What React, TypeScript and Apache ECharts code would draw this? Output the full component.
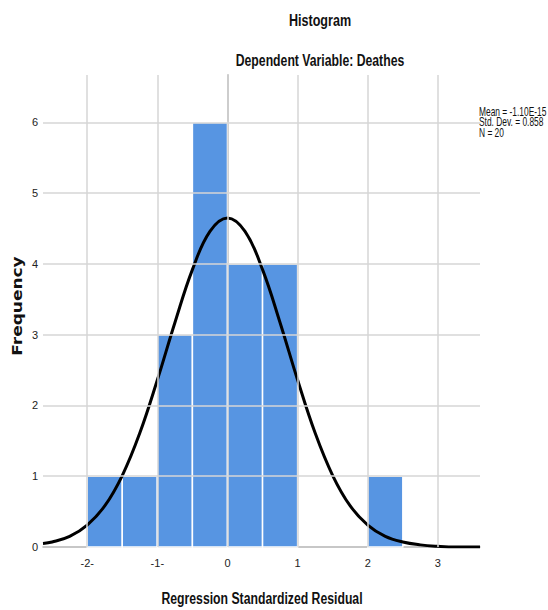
import React, { useEffect, useRef } from "react";
import * as echarts from "echarts";

const binStarts = [-2, -1.5, -1, -0.5, 0, 0.5, 2];
const binEnds = [-1.5, -1, -0.5, 0, 0.5, 1, 2.5];
const frequencies = [1, 1, 3, 6, 4, 4, 1];
const curveX = [-2.63, -2.5, -2.25, -2, -1.75, -1.5, -1.25, -1, -0.75, -0.5, -0.25, 0, 0.25, 0.5, 0.75, 1, 1.25, 1.5, 1.75, 2, 2.25, 2.5, 2.75, 3, 3.25, 3.6];
const curveY = [0.05, 0.07, 0.15, 0.31, 0.58, 1.01, 1.61, 2.36, 3.17, 3.92, 4.46, 4.65, 4.46, 3.92, 3.17, 2.36, 1.61, 1.01, 0.58, 0.31, 0.15, 0.07, 0.03, 0.01, 0.0, 0.0];
const xTicks = [-2, -1, 0, 1, 2, 3];
const xTickLabels = ["-2-", "-1-", "0", "1", "2", "3"];
const yTicks = [0, 1, 2, 3, 4, 5, 6];
const statsLines = ["Mean = -1.10E-15", "Std. Dev. = 0.858", "N = 20"];
const titleText = "Histogram";
const subtitleText = "Dependent Variable: Deathes";
const xName = "Regression Standardized Residual";
const yName = "Frequency";

const SANS = '"Liberation Sans", Arial, sans-serif';

export default function App() {
  const ref = useRef<HTMLDivElement>(null);
  useEffect(() => {
    document.body.style.margin = "0";
    if (!ref.current) return;
    const chart = echarts.init(ref.current, null, { renderer: "svg" });
    const barData = binStarts.map((s, i) => [s, binEnds[i], frequencies[i]]);
    const curveData = curveX.map((x, i) => [x, curveY[i]]);
    const gridMarks: any[] = [
      ...xTicks.map((v) => ({ xAxis: v })),
      ...yTicks.slice(1).map((v) => ({ yAxis: v })),
    ];
    const narrowText = (text: string, x: number, y: number, size: number, bold: boolean, align: string, sx: number) => ({
      type: "text",
      x,
      y,
      scaleX: sx,
      style: {
        text,
        fontFamily: SANS,
        fontSize: size,
        fontWeight: bold ? "bold" : "normal",
        fill: "#111",
        textAlign: align,
        textVerticalAlign: "middle",
      },
    });
    chart.setOption({
      animation: false,
      backgroundColor: "#ffffff",
      grid: { left: 43, top: 75, right: 68, bottom: 63, containLabel: false },
      xAxis: {
        type: "value",
        min: -2.63,
        max: 3.6,
        axisLine: { show: true, onZero: false, lineStyle: { color: "#b5b5b5", width: 1.5 } },
        axisTick: { show: false },
        splitLine: { show: false },
        axisLabel: {
          customValues: xTicks,
          formatter: (v: number) => {
            const i = xTicks.indexOf(Math.round(v));
            return i >= 0 ? xTickLabels[i] : "";
          },
          fontFamily: SANS,
          fontSize: 11,
          color: "#222",
          margin: 10,
        },
      },
      yAxis: {
        type: "value",
        min: 0,
        max: 6.67,
        axisLine: { show: true, lineStyle: { color: "#999999", width: 1.5 } },
        axisTick: { show: false },
        splitLine: { show: false },
        axisLabel: {
          customValues: yTicks,
          fontFamily: SANS,
          fontSize: 11,
          color: "#222",
          margin: 5,
        },
      },
      graphic: [
        narrowText(titleText, 320, 20, 17, true, "center", 0.74),
        narrowText(subtitleText, 320, 60, 17, true, "center", 0.72),
        narrowText(xName, 262, 598, 17, true, "center", 0.72),
        {
          type: "text",
          x: 18,
          y: 306,
          rotation: Math.PI / 2,
          scaleY: 0.8,
          style: { text: yName, fontFamily: '"DejaVu Sans", sans-serif', fontSize: 17, fontWeight: "bold", fill: "#111", textAlign: "center", textVerticalAlign: "middle" },
        },
        ...statsLines.map((t, i) => narrowText(t, 479, 111.5 + i * 10.7, 12, false, "left", 0.7)),
      ],
      series: [
        {
          type: "line",
          data: [],
          z: 1,
          silent: true,
          markLine: {
            silent: true,
            symbol: "none",
            label: { show: false },
            lineStyle: { color: "#d6d6d6", width: 1.5, type: "solid" },
            data: gridMarks,
          },
        },
        {
          type: "custom",
          z: 2,
          data: barData,
          encode: { x: [0, 1], y: 2 },
          renderItem: (params: any, api: any) => {
            const p0 = api.coord([api.value(0), api.value(2)]);
            const p1 = api.coord([api.value(1), 0]);
            return {
              type: "rect",
              shape: { x: p0[0], y: p0[1], width: p1[0] - p0[0], height: p1[1] - p0[1] },
              style: { fill: "#5795e2", stroke: "#ffffff", lineWidth: 1.5 },
            };
          },
        },
        {
          type: "line",
          z: 3,
          data: curveData,
          smooth: 0.4,
          showSymbol: false,
          symbol: "none",
          lineStyle: { color: "#000", width: 3 },
        },
      ],
    });
    return () => chart.dispose();
  }, []);
  return <div ref={ref} style={{ width: 548, height: 610 }} />;
}
